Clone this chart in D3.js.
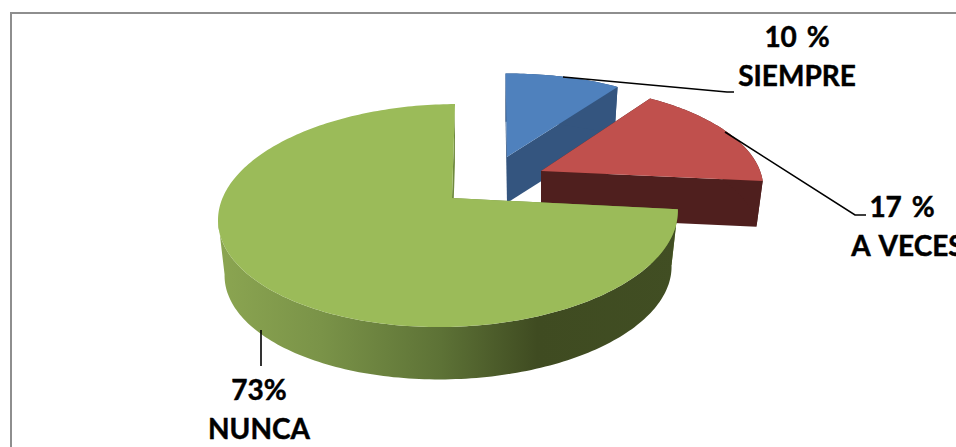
<!DOCTYPE html>
<html>
<head>
<meta charset="utf-8">
<script src="https://cdn.jsdelivr.net/npm/d3@7/dist/d3.min.js"></script>
<style>
  html, body { margin: 0; padding: 0; background: #fff; overflow: hidden; }
  svg { display: block; }
  text { font-family: Lato, "Open Sans", sans-serif; font-weight: 700; fill: #000; stroke: #000; stroke-width: 0.45; word-spacing: 3px; }
</style>
</head>
<body>
<svg id="chart" width="956" height="447"></svg>
<script>
// Survey answers and their shares
const categories = ["SIEMPRE", "A VECES", "NUNCA"];
const shares = [10, 17, 73];
const shareLabels = ["10 %", "17 %", "73%"];

// Face colours for each wedge
const topColors = ["#4f81bd", "#c0504d", "#9bbb59"];
const sideColors = ["#34557f", "#4f1f1e", "#6f8a3e"];

// Exploded wedge placement on the page: apex, radii, shears and thickness
const wedgeLayouts = [
  { ax: 507, ay: 157, rx: 216, ry: 96.6, shearX: 1.7, depth: 46 },
  { ax: 541, ay: 171, rx: 221.4, ry: 100, shearX: 7.7, depth: 46 },
  { ax: 452, ay: 198, rx: 227, ry: 108.7, shearX: -3.5, depth: 56 }
];

// Callout positions
const leaderPaths = [
  [[563, 77], [727, 92], [734, 92]],
  [[725, 132], [855, 215], [866, 215]],
  [[261, 330], [261, 366]]
];
const labelSpots = [
  { x1: 797, y1: 47, x2: 797, y2: 86 },
  { x1: 902, y1: 217, x2: 907.5, y2: 256 },
  { x1: 259, y1: 400, x2: 259, y2: 439 }
];

// Perspective terms shared by every wedge
const tiltK = 0.157, tiltM = 0.015, shearY = -2.5, floorScale = 0.972;

const svg = d3.select("#chart");

// Shaded band around the outer wall of the large wedge
const defs = svg.append("defs");
const wallGradient = defs.append("linearGradient")
  .attr("id", "wall")
  .attr("gradientUnits", "userSpaceOnUse")
  .attr("x1", 220).attr("x2", 680).attr("y1", 0).attr("y2", 0);
[[0, "#8ba551"], [0.22, "#7a9348"], [0.48, "#5d7236"], [0.69, "#3f4b21"], [1, "#414e23"]]
  .forEach(([o, c]) => wallGradient.append("stop").attr("offset", o).attr("stop-color", c));

// Outer frame, running off the right and bottom of the page
svg.append("path")
  .attr("d", "M11 447V13H956")
  .attr("fill", "none")
  .attr("stroke", "#8e8e8e")
  .attr("stroke-width", 2);

// Maps a polar position on a wedge (radius 0..1, angle from 12 o'clock) to the page.
function project(layout, radius, angle, floor) {
  const X = radius * Math.sin(angle);
  const Z = -radius * Math.cos(angle);
  const s = 1 / (1 - tiltK * Z + tiltM * X);
  const scale = floor ? floorScale : 1;
  return [
    layout.ax + scale * (layout.rx * X + layout.shearX * Z) * s,
    layout.ay + (floor ? layout.depth : 0) + scale * (layout.ry * Z + shearY * X) * s
  ];
}

function rimAngles(a0, a1) {
  const steps = Math.max(2, Math.ceil((a1 - a0) / 0.02));
  return d3.range(steps + 1).map(i => a0 + (a1 - a0) * i / steps);
}

const outline = d3.line().curve(d3.curveLinear);
const pie = d3.pie().sort(null).value(d => d);
const wedges = pie(shares);

wedges.forEach((w, i) => {
  const layout = wedgeLayouts[i];
  const g = svg.append("g").attr("class", "wedge");
  const cut = angle => [
    project(layout, 0, angle, false),
    project(layout, 1, angle, false),
    project(layout, 1, angle, true),
    project(layout, 0, angle, true)
  ];

  g.append("path").attr("d", outline(cut(w.startAngle)) + "Z").attr("fill", sideColors[i]);
  g.append("path").attr("d", outline(cut(w.endAngle)) + "Z").attr("fill", sideColors[i]);

  // The outer wall stops at the leftmost point of the rim; past it the wall is out of sight.
  const angles = rimAngles(w.startAngle, w.endAngle);
  const leftmost = d3.leastIndex(angles, a => project(layout, 1, a, false)[0]);
  const wallAngles = w.endAngle > Math.PI * 1.5 ? angles.slice(0, leftmost + 1) : angles;
  const wall = wallAngles.map(a => project(layout, 1, a, false))
    .concat(wallAngles.map(a => project(layout, 1, a, true)).reverse());
  g.append("path").attr("d", outline(wall) + "Z")
    .attr("fill", i === 2 ? "url(#wall)" : sideColors[i]);

  const face = [project(layout, 0, 0, false)]
    .concat(angles.map(a => project(layout, 1, a, false)));
  g.append("path").attr("d", outline(face) + "Z").attr("fill", topColors[i]);
});

// Callout lines
svg.selectAll("path.leader").data(leaderPaths).join("path")
  .attr("class", "leader")
  .attr("d", d => outline(d))
  .attr("fill", "none")
  .attr("stroke", "#000")
  .attr("stroke-width", 1.6);

// Two-line labels: share above, category below
labelSpots.forEach((spot, i) => {
  svg.append("text").attr("x", spot.x1).attr("y", spot.y1)
    .attr("text-anchor", "middle").attr("font-size", 28).text(shareLabels[i]);
  svg.append("text").attr("x", spot.x2).attr("y", spot.y2)
    .attr("text-anchor", "middle").attr("font-size", 28).text(categories[i]);
});
</script>
</body>
</html>
